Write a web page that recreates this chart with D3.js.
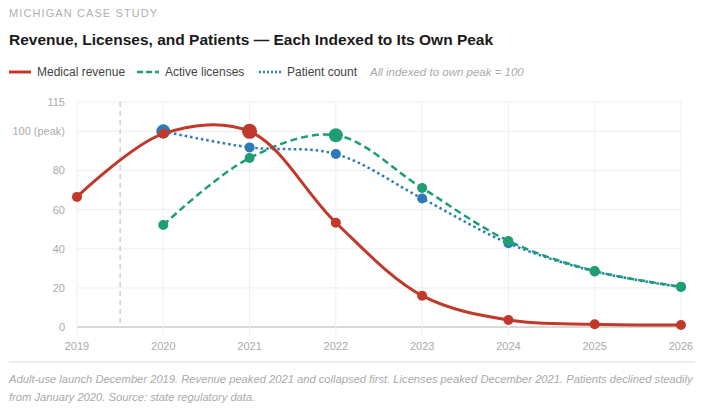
<!DOCTYPE html>
<html><head><meta charset="utf-8">
<script src="https://cdn.jsdelivr.net/npm/d3@7"></script>
<style>
body{margin:0;background:#fff;font-family:"Liberation Sans",Arial,sans-serif;}
</style></head>
<body><svg id="c" width="705" height="409"></svg>
<script>
const years = [2019, 2020, 2021, 2022, 2023, 2024, 2025, 2026];
const revenue = [66.5, 98.8, 100, 53.3, 16, 3.6, 1.4, 1];
const licenses = [null, 52.1, 86.4, 98, 71, 44, 28.6, 20.6];
const patients = [null, 100, 91.8, 88.4, 65.7, 42.8, 28.4, 20.4];
const yTicks = [0, 20, 40, 60, 80, 100, 115];
const revenuePeakYear = 2021, licensesPeakYear = 2022, patientsPeakYear = 2020;
const launchYear = 2019.5;

const svg = d3.select("#c");
const x = d3.scaleLinear().domain([2019, 2026]).range([77, 681]);
const y = d3.scaleLinear().domain([0, 115]).range([327, 102]);

svg.append("text").attr("x", 9).attr("y", 17).text("MICHIGAN CASE STUDY")
  .attr("font-size", 11).attr("fill", "#b0b0b0").attr("letter-spacing", 1.1);
svg.append("text").attr("x", 9).attr("y", 45).text("Revenue, Licenses, and Patients \u2014 Each Indexed to Its Own Peak")
  .attr("font-size", 15.5).attr("font-weight", "bold").attr("fill", "#1a1a1a");

// legend
const lg = svg.append("g");
const legendItems = [
  {x: 9, label: "Medical revenue", color: "#c0392b", dash: null, w: 3},
  {x: 137, label: "Active licenses", color: "#1f9e74", dash: "6,3", w: 2.5},
  {x: 259, label: "Patient count", color: "#2b7bba", dash: "2,2", w: 2.5}
];
legendItems.forEach(d => {
  lg.append("line").attr("x1", d.x).attr("x2", d.x + 22).attr("y1", 72).attr("y2", 72)
    .attr("stroke", d.color).attr("stroke-width", d.w).attr("stroke-dasharray", d.dash);
  lg.append("text").attr("x", d.x + 28).attr("y", 76).text(d.label).attr("font-size", 12).attr("fill", "#444");
});
lg.append("text").attr("x", 370).attr("y", 76).text("All indexed to own peak = 100")
  .attr("font-size", 11.5).attr("font-style", "italic").attr("fill", "#aaa");

// grid
const g = svg.append("g");
g.selectAll(".hg").data(yTicks).join("line")
  .attr("x1", 77).attr("x2", 681).attr("y1", d => y(d)).attr("y2", d => y(d))
  .attr("stroke", d => d === 0 ? "#d8d8d8" : "#eeeeee").attr("stroke-width", d => d === 0 ? 2 : 1);
g.selectAll(".vg").data(years).join("line")
  .attr("x1", d => x(d)).attr("x2", d => x(d)).attr("y1", 102).attr("y2", 335)
  .attr("stroke", "#eeeeee").attr("stroke-width", 1);
g.append("line").attr("x1", x(launchYear)).attr("x2", x(launchYear)).attr("y1", 102).attr("y2", 327)
  .attr("stroke", "#d0d0d0").attr("stroke-width", 1.5).attr("stroke-dasharray", "5,4");

// axes labels
g.selectAll(".yl").data(yTicks).join("text")
  .attr("x", 65).attr("y", d => y(d) + 4).attr("text-anchor", "end")
  .attr("font-size", 11).attr("fill", "#aaa").text(d => d === 100 ? "100 (peak)" : d);
g.selectAll(".xl").data(years).join("text")
  .attr("x", d => x(d)).attr("y", 350).attr("text-anchor", "middle")
  .attr("font-size", 11).attr("fill", "#aaa").text(d => d);

const line = d3.line().defined(d => d[1] != null).x(d => x(d[0])).y(d => y(d[1])).curve(d3.curveCatmullRom.alpha(0.5));

function series(vals, color, dash, w, peakYear, rSmall, rBig) {
  const data = years.map((yr, i) => [yr, vals[i]]).filter(d => d[1] != null);
  svg.append("path").datum(data).attr("d", line).attr("fill", "none")
    .attr("stroke", color).attr("stroke-width", w).attr("stroke-dasharray", dash);
  svg.append("g").selectAll("circle").data(data).join("circle")
    .attr("cx", d => x(d[0])).attr("cy", d => y(d[1]))
    .attr("r", d => d[0] === peakYear ? rBig : rSmall).attr("fill", color);
}
series(patients, "#2b7bba", "2.5,3", 2.5, patientsPeakYear, 5, 7);
series(licenses, "#1f9e74", "7,4", 2.5, licensesPeakYear, 5, 7);
series(revenue, "#c0392b", null, 3, revenuePeakYear, 5, 7.5);

// footer
svg.append("line").attr("x1", 9).attr("x2", 695).attr("y1", 362).attr("y2", 362).attr("stroke", "#ddd");
const notes = ["Adult-use launch December 2019. Revenue peaked 2021 and collapsed first. Licenses peaked December 2021. Patients declined steadily",
  "from January 2020. Source: state regulatory data."];
svg.append("g").selectAll("text").data(notes).join("text")
  .attr("x", 9).attr("y", (d, i) => 383 + i * 18)
  .attr("font-size", 11.2).attr("font-style", "italic").attr("fill", "#aaa").text(d => d);
</script></body></html>
